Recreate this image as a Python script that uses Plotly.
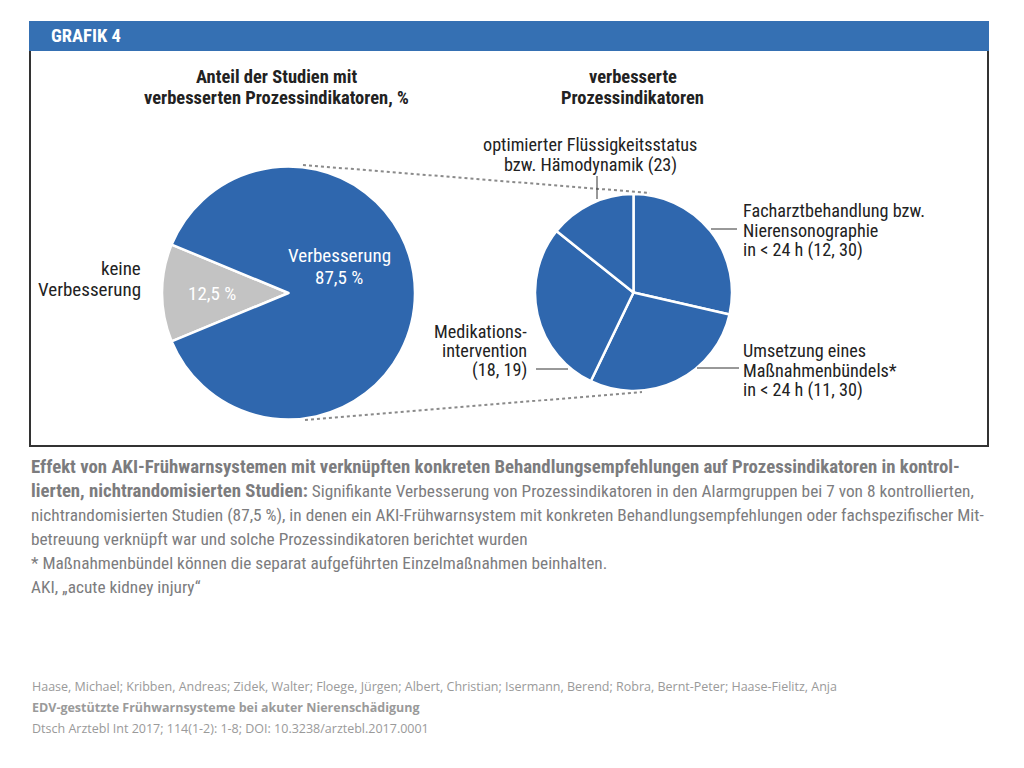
import plotly.graph_objects as go

# page body has an 8px margin: figure fills the viewport inside it
OFF = 8
W, H = 1024 - 2 * OFF, 768 - 2 * OFF

# ---- data ----
left_labels = ["keine Verbesserung", "Verbesserung"]
left_values = [12.5, 87.5]
right_labels = [
    "Facharztbehandlung bzw. Nierensonographie in < 24 h (12, 30)",
    "Umsetzung eines Maßnahmenbündels* in < 24 h (11, 30)",
    "Medikationsintervention (18, 19)",
    "optimierter Flüssigkeitsstatus bzw. Hämodynamik (23)",
]
right_values = [2, 2, 2, 1]

BLUE = "#2f67ae"
HEADBLUE = "#3570b3"
GREY = "#c3c3c3"
NARROW = "Roboto Condensed, Roboto, sans-serif"


def px(x):
    return (x - OFF) / W


def py(y):
    return 1 - (y - OFF) / H


def dom(cx, cy, r):
    return dict(x=[px(cx - r), px(cx + r)], y=[py(cy + r), py(cy - r)])


fig = go.Figure()
fig.add_trace(go.Pie(
    labels=left_labels, values=left_values, sort=False,
    direction="clockwise", rotation=-112.5,
    marker=dict(colors=[GREY, BLUE], line=dict(color="white", width=2.5)),
    textinfo="none", hoverinfo="label+value", showlegend=False,
    domain=dom(288.5, 293, 126.5),
))
fig.add_trace(go.Pie(
    labels=right_labels, values=right_values, sort=False,
    direction="clockwise", rotation=0,
    marker=dict(colors=[BLUE] * 4, line=dict(color="white", width=2.5)),
    textinfo="none", hoverinfo="label", showlegend=False,
    domain=dom(633.5, 292.5, 98.5),
))

shapes = []
shapes.append(dict(type="rect", xref="paper", yref="paper", x0=px(30), x1=px(988), y0=py(446), y1=py(22),
                   line=dict(color="#333333", width=2), fillcolor="rgba(0,0,0,0)"))
shapes.append(dict(type="rect", xref="paper", yref="paper", x0=px(29), x1=px(989), y0=py(51), y1=py(21),
                   line=dict(width=0), fillcolor=HEADBLUE))
for (x0, y0, x1, y1) in [(303, 165, 650, 193), (305, 420, 642, 392)]:
    shapes.append(dict(type="line", xref="paper", yref="paper", x0=px(x0), y0=py(y0), x1=px(x1), y1=py(y1),
                       line=dict(color="#8a8a8a", width=2, dash="dot")))
for (x0, y0, x1, y1) in [(597, 176, 597, 199), (711, 229, 737, 229), (697, 368, 739, 368), (536, 369, 568, 369)]:
    shapes.append(dict(type="line", xref="paper", yref="paper", x0=px(x0), y0=py(y0), x1=px(x1), y1=py(y1),
                       line=dict(color="#333333", width=1)))

ann = []


def t(x, y, text, size=15, color="#222222", xanchor="left", family=NARROW):
    ann.append(dict(x=px(x), y=py(y), xref="paper", yref="paper", text=text, showarrow=False,
                    xanchor=xanchor, yanchor="middle", align=xanchor if xanchor != "center" else "center",
                    font=dict(size=size, color=color, family=family)))


TS = 18.5
LS = 18.2
t(49, 36, "<b>GRAFIK 4</b>", size=18.5, color="white")
t(276, 76.5, "<b>Anteil der Studien mit</b>", size=TS, xanchor="center")
t(276, 98.5, "<b>verbesserten Prozessindikatoren, %</b>", size=TS, xanchor="center")
t(632.5, 76.5, "<b>verbesserte</b>", size=TS, xanchor="center")
t(632.5, 98.5, "<b>Prozessindikatoren</b>", size=TS, xanchor="center")

t(339, 256, "Verbesserung", size=19, color="white", xanchor="center")
t(339, 277, "87,5 %", size=19, color="white", xanchor="center")
t(212, 294, "12,5 %", size=19, color="white", xanchor="center")
t(143, 268, "keine", size=19, xanchor="right")
t(143, 289, "Verbesserung", size=19, xanchor="right")

t(590, 145, "optimierter Flüssigkeitsstatus", size=LS, xanchor="center")
t(590, 164.5, "bzw. Hämodynamik (23)", size=LS, xanchor="center")
t(741, 211, "Facharztbehandlung bzw.", size=LS)
t(741, 230.5, "Nierensonographie", size=LS)
t(741, 250, "in < 24 h (12, 30)", size=LS)
t(741, 350.5, "Umsetzung eines", size=LS)
t(741, 370, "Maßnahmenbündels*", size=LS)
t(741, 389.5, "in < 24 h (11, 30)", size=LS)
t(529, 331, "Medikations-", size=LS, xanchor="right")
t(529, 350.5, "intervention", size=LS, xanchor="right")
t(529, 370, "(18, 19)", size=LS, xanchor="right")

CAP = "#7c7c7e"
B = '<span style="font-size:18.8px"><b>{}</b></span>'
cap_lines = [
    B.format("Effekt von AKI-Frühwarnsystemen mit verknüpften konkreten Behandlungsempfehlungen auf Prozessindikatoren in kontrol-"),
    B.format("lierten, nichtrandomisierten Studien:") + " Signifikante Verbesserung von Prozessindikatoren in den Alarmgruppen bei 7 von 8 kontrollierten,",
    "nichtrandomisierten Studien (87,5 %), in denen ein AKI-Frühwarnsystem mit konkreten Behandlungsempfehlungen oder fachspezifischer Mit-",
    "betreuung verknüpft war und solche Prozessindikatoren berichtet wurden",
    "* Maßnahmenbündel können die separat aufgeführten Einzelmaßnahmen beinhalten.",
    "AKI, „acute kidney injury“",
]
for i, line in enumerate(cap_lines):
    t(29, 467 + i * 24, line, size=17.3, color=CAP)

FOOT = "#9a9a9a"
FF = "Open Sans, Liberation Sans, sans-serif"
t(30, 686, "Haase, Michael; Kribben, Andreas; Zidek, Walter; Floege, Jürgen; Albert, Christian; Isermann, Berend; Robra, Bernt-Peter; Haase-Fielitz, Anja",
  size=12.5, color=FOOT, family=FF)
t(30, 707, "<b>EDV-gestützte Frühwarnsysteme bei akuter Nierenschädigung</b>", size=12.5, color=FOOT, family=FF)
t(30, 728, "Dtsch Arztebl Int 2017; 114(1-2): 1-8; DOI: 10.3238/arztebl.2017.0001", size=12.5, color=FOOT, family=FF)

fig.update_layout(
    width=W, height=H, margin=dict(l=0, r=0, t=0, b=0),
    paper_bgcolor="white", plot_bgcolor="white",
    shapes=shapes, annotations=ann, showlegend=False,
)

fig.write_html("out.html")
